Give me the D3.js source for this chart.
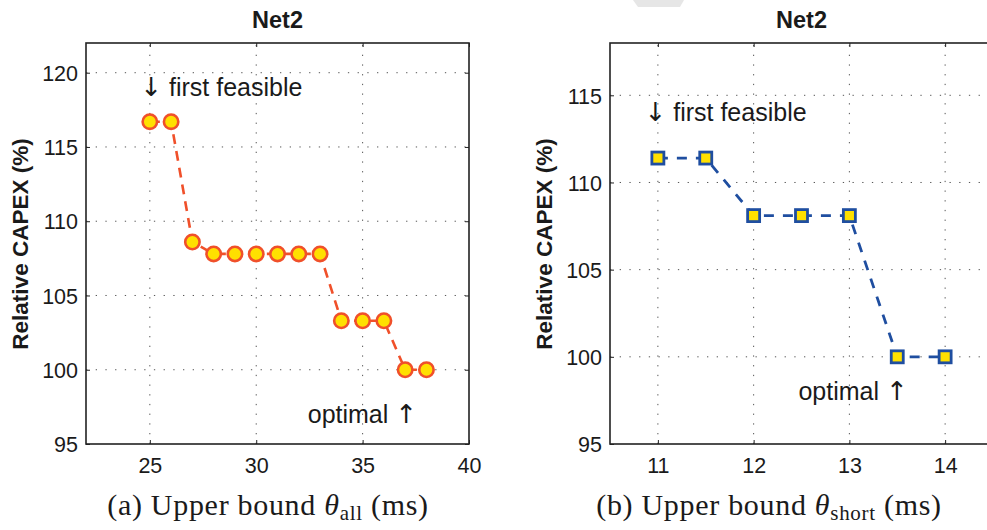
<!DOCTYPE html>
<html>
<head>
<meta charset="utf-8">
<script src="https://cdn.jsdelivr.net/npm/d3@7"></script>
<style>
  body { margin: 0; background: #fff; }
  svg { display: block; }
</style>
</head>
<body>
<svg width="987" height="530"></svg>
<script>
// ---- data ----
const allBound = [25, 26, 27, 28, 29, 30, 31, 32, 33, 34, 35, 36, 37, 38];
const allCapex = [116.7, 116.7, 108.6, 107.8, 107.8, 107.8, 107.8, 107.8, 107.8, 103.3, 103.3, 103.3, 100, 100];

const shortBound = [11, 11.5, 12, 12.5, 13, 13.5, 14];
const shortCapex = [111.4, 111.4, 108.1, 108.1, 108.1, 100, 100];

const allXTicks = [25, 30, 35, 40];
const allYTicks = [95, 100, 105, 110, 115, 120];
const shortXTicks = [11, 12, 13, 14];
const shortYTicks = [95, 100, 105, 110, 115];

const panelTitle = "Net2";
const yLabel = "Relative CAPEX (%)";

const svg = d3.select("svg");

// faint grey blob at the top (scan artefact)
svg.append("path")
    .attr("d", "M633,0 L684,0 L680,7 L638,7 Z")
    .attr("fill", "#e6e6e6");

function drawPanel(opts) {
    const x = d3.scaleLinear().domain(opts.xDomain).range([opts.left, opts.right]);
    const y = d3.scaleLinear().domain(opts.yDomain).range([444, 43]);
    const g = svg.append("g");

    // grid (dotted)
    g.selectAll("line.gx").data(opts.xTicks.filter(d => d > opts.xDomain[0] && d < opts.xDomain[1]))
        .enter().append("line")
        .attr("x1", d => x(d)).attr("x2", d => x(d))
        .attr("y1", y.range()[0]).attr("y2", y.range()[1])
        .attr("stroke", "#555").attr("stroke-width", 1)
        .attr("stroke-dasharray", "1.3,8.4");
    g.selectAll("line.gy").data(opts.yTicks.filter(d => d > opts.yDomain[0] && d < opts.yDomain[1]))
        .enter().append("line")
        .attr("x1", opts.left).attr("x2", opts.right)
        .attr("y1", d => y(d)).attr("y2", d => y(d))
        .attr("stroke", "#555").attr("stroke-width", 1)
        .attr("stroke-dasharray", "1.3,8.4");

    // axes with inward ticks
    const fmt = d3.format("d");
    const bottom = g.append("g").attr("transform", "translate(0,444)")
        .call(d3.axisBottom(x).tickValues(opts.xTicks).tickFormat(fmt).tickSize(-4).tickPadding(10));
    const top = g.append("g").attr("transform", "translate(0,43)")
        .call(d3.axisTop(x).tickValues(opts.xTicks).tickSize(-4).tickFormat(""));
    const left = g.append("g").attr("transform", "translate(" + opts.left + ",0)")
        .call(d3.axisLeft(y).tickValues(opts.yTicks).tickFormat(fmt).tickSize(-4).tickPadding(8));
    const right = g.append("g").attr("transform", "translate(" + opts.right + ",0)")
        .call(d3.axisRight(y).tickValues(opts.yTicks).tickSize(-4).tickFormat(""));
    [bottom, top, left, right].forEach(a => {
        a.select(".domain").remove();
        a.selectAll("line").attr("stroke", "#222");
        a.selectAll("text")
            .attr("font-family", "Liberation Sans, Arial, sans-serif")
            .attr("font-size", 21.5).attr("fill", "#1a1a1a");
    });
    bottom.selectAll("text").attr("dy", "0.9em");
    left.selectAll("text").attr("dy", "0.36em");

    // frame
    g.append("rect")
        .attr("x", opts.left).attr("y", 43)
        .attr("width", opts.right - opts.left).attr("height", 401)
        .attr("fill", "none").attr("stroke", "#222").attr("stroke-width", 1.6);

    // title
    g.append("text")
        .attr("x", (opts.left + opts.right) / 2).attr("y", 28)
        .attr("text-anchor", "middle")
        .attr("font-family", "Liberation Sans, Arial, sans-serif")
        .attr("font-weight", "bold").attr("font-size", 23.5)
        .attr("fill", "#1a1a1a")
        .text(panelTitle);

    // y label
    g.append("text")
        .attr("transform", "translate(" + opts.labelX + ",244) rotate(-90)")
        .attr("text-anchor", "middle")
        .attr("font-family", "Liberation Sans, Arial, sans-serif")
        .attr("font-weight", "bold").attr("font-size", 22.5)
        .attr("fill", "#1a1a1a")
        .text(yLabel);

    // data line + markers
    const pts = opts.xs.map((d, i) => [d, opts.ys[i]]);
    const line = d3.line().x(d => x(d[0])).y(d => y(d[1]));
    g.append("path")
        .datum(pts)
        .attr("d", line)
        .attr("fill", "none")
        .attr("stroke", opts.color).attr("stroke-width", opts.lineWidth)
        .attr("stroke-dasharray", opts.dash);

    if (opts.marker === "circle") {
        g.selectAll("circle.m").data(pts).enter().append("circle")
            .attr("cx", d => x(d[0])).attr("cy", d => y(d[1]))
            .attr("r", 7.2)
            .attr("fill", "#ffe000")
            .attr("stroke", opts.color).attr("stroke-width", 2.6);
    } else {
        g.selectAll("rect.m").data(pts).enter().append("rect")
            .attr("x", d => x(d[0]) - 6).attr("y", d => y(d[1]) - 6)
            .attr("width", 12).attr("height", 12)
            .attr("fill", "#ffe000")
            .attr("stroke", opts.color).attr("stroke-width", 2.8);
    }

    // annotations
    const ann = g.append("g")
        .attr("font-family", "Liberation Sans, Arial, sans-serif")
        .attr("font-size", 25).attr("fill", "#1a1a1a");
    const t1 = ann.append("text")
        .attr("x", x(opts.firstAt[0])).attr("y", y(opts.firstAt[1]));
    t1.append("tspan").attr("font-family", "'DejaVu Sans'")
        .attr("font-size", 26).attr("fill", "#1a1a1a").text("\u2193");
    t1.append("tspan").text(" first feasible");
    const t2 = ann.append("text")
        .attr("x", x(opts.optAt[0])).attr("y", y(opts.optAt[1]))
        .attr("text-anchor", "end");
    t2.append("tspan").text("optimal ");
    t2.append("tspan").attr("font-family", "'DejaVu Sans'")
        .attr("font-size", 26).attr("fill", "#1a1a1a").text("\u2191");

    // caption
    const cap = g.append("text")
        .attr("x", opts.captionX).attr("y", 515)
        .attr("text-anchor", "middle")
        .attr("font-family", "Liberation Serif, 'DejaVu Serif', serif")
        .attr("font-size", 30).attr("letter-spacing", 0.7).attr("fill", "#1a1a1a");
    cap.append("tspan").text(opts.captionPrefix + " Upper bound ");
    cap.append("tspan").attr("font-style", "italic").text("\u03b8");
    cap.append("tspan").attr("font-size", 21).attr("dy", 5).text(opts.sub);
    cap.append("tspan").attr("dy", -5).text(" (ms)");
}

drawPanel({
    xDomain: [22, 40], yDomain: [95, 122],
    left: 86, right: 469, labelX: 28,
    xTicks: allXTicks, yTicks: allYTicks,
    xs: allBound, ys: allCapex,
    color: "#f0502a", lineWidth: 2.6, dash: "10,7",
    marker: "circle",
    firstAt: [24.55, 118.4], optAt: [37.56, 96.4],
    captionX: 268, captionPrefix: "(a)", sub: "all"
});

drawPanel({
    xDomain: [10.5, 14.5], yDomain: [95, 118],
    left: 610, right: 993, labelX: 552,
    xTicks: shortXTicks, yTicks: shortYTicks,
    xs: shortBound, ys: shortCapex,
    color: "#1f4ea0", lineWidth: 2.8, dash: "10,9",
    marker: "square",
    firstAt: [10.86, 113.5], optAt: [13.61, 97.5],
    captionX: 769, captionPrefix: "(b)", sub: "short"
});
</script>
</body>
</html>
